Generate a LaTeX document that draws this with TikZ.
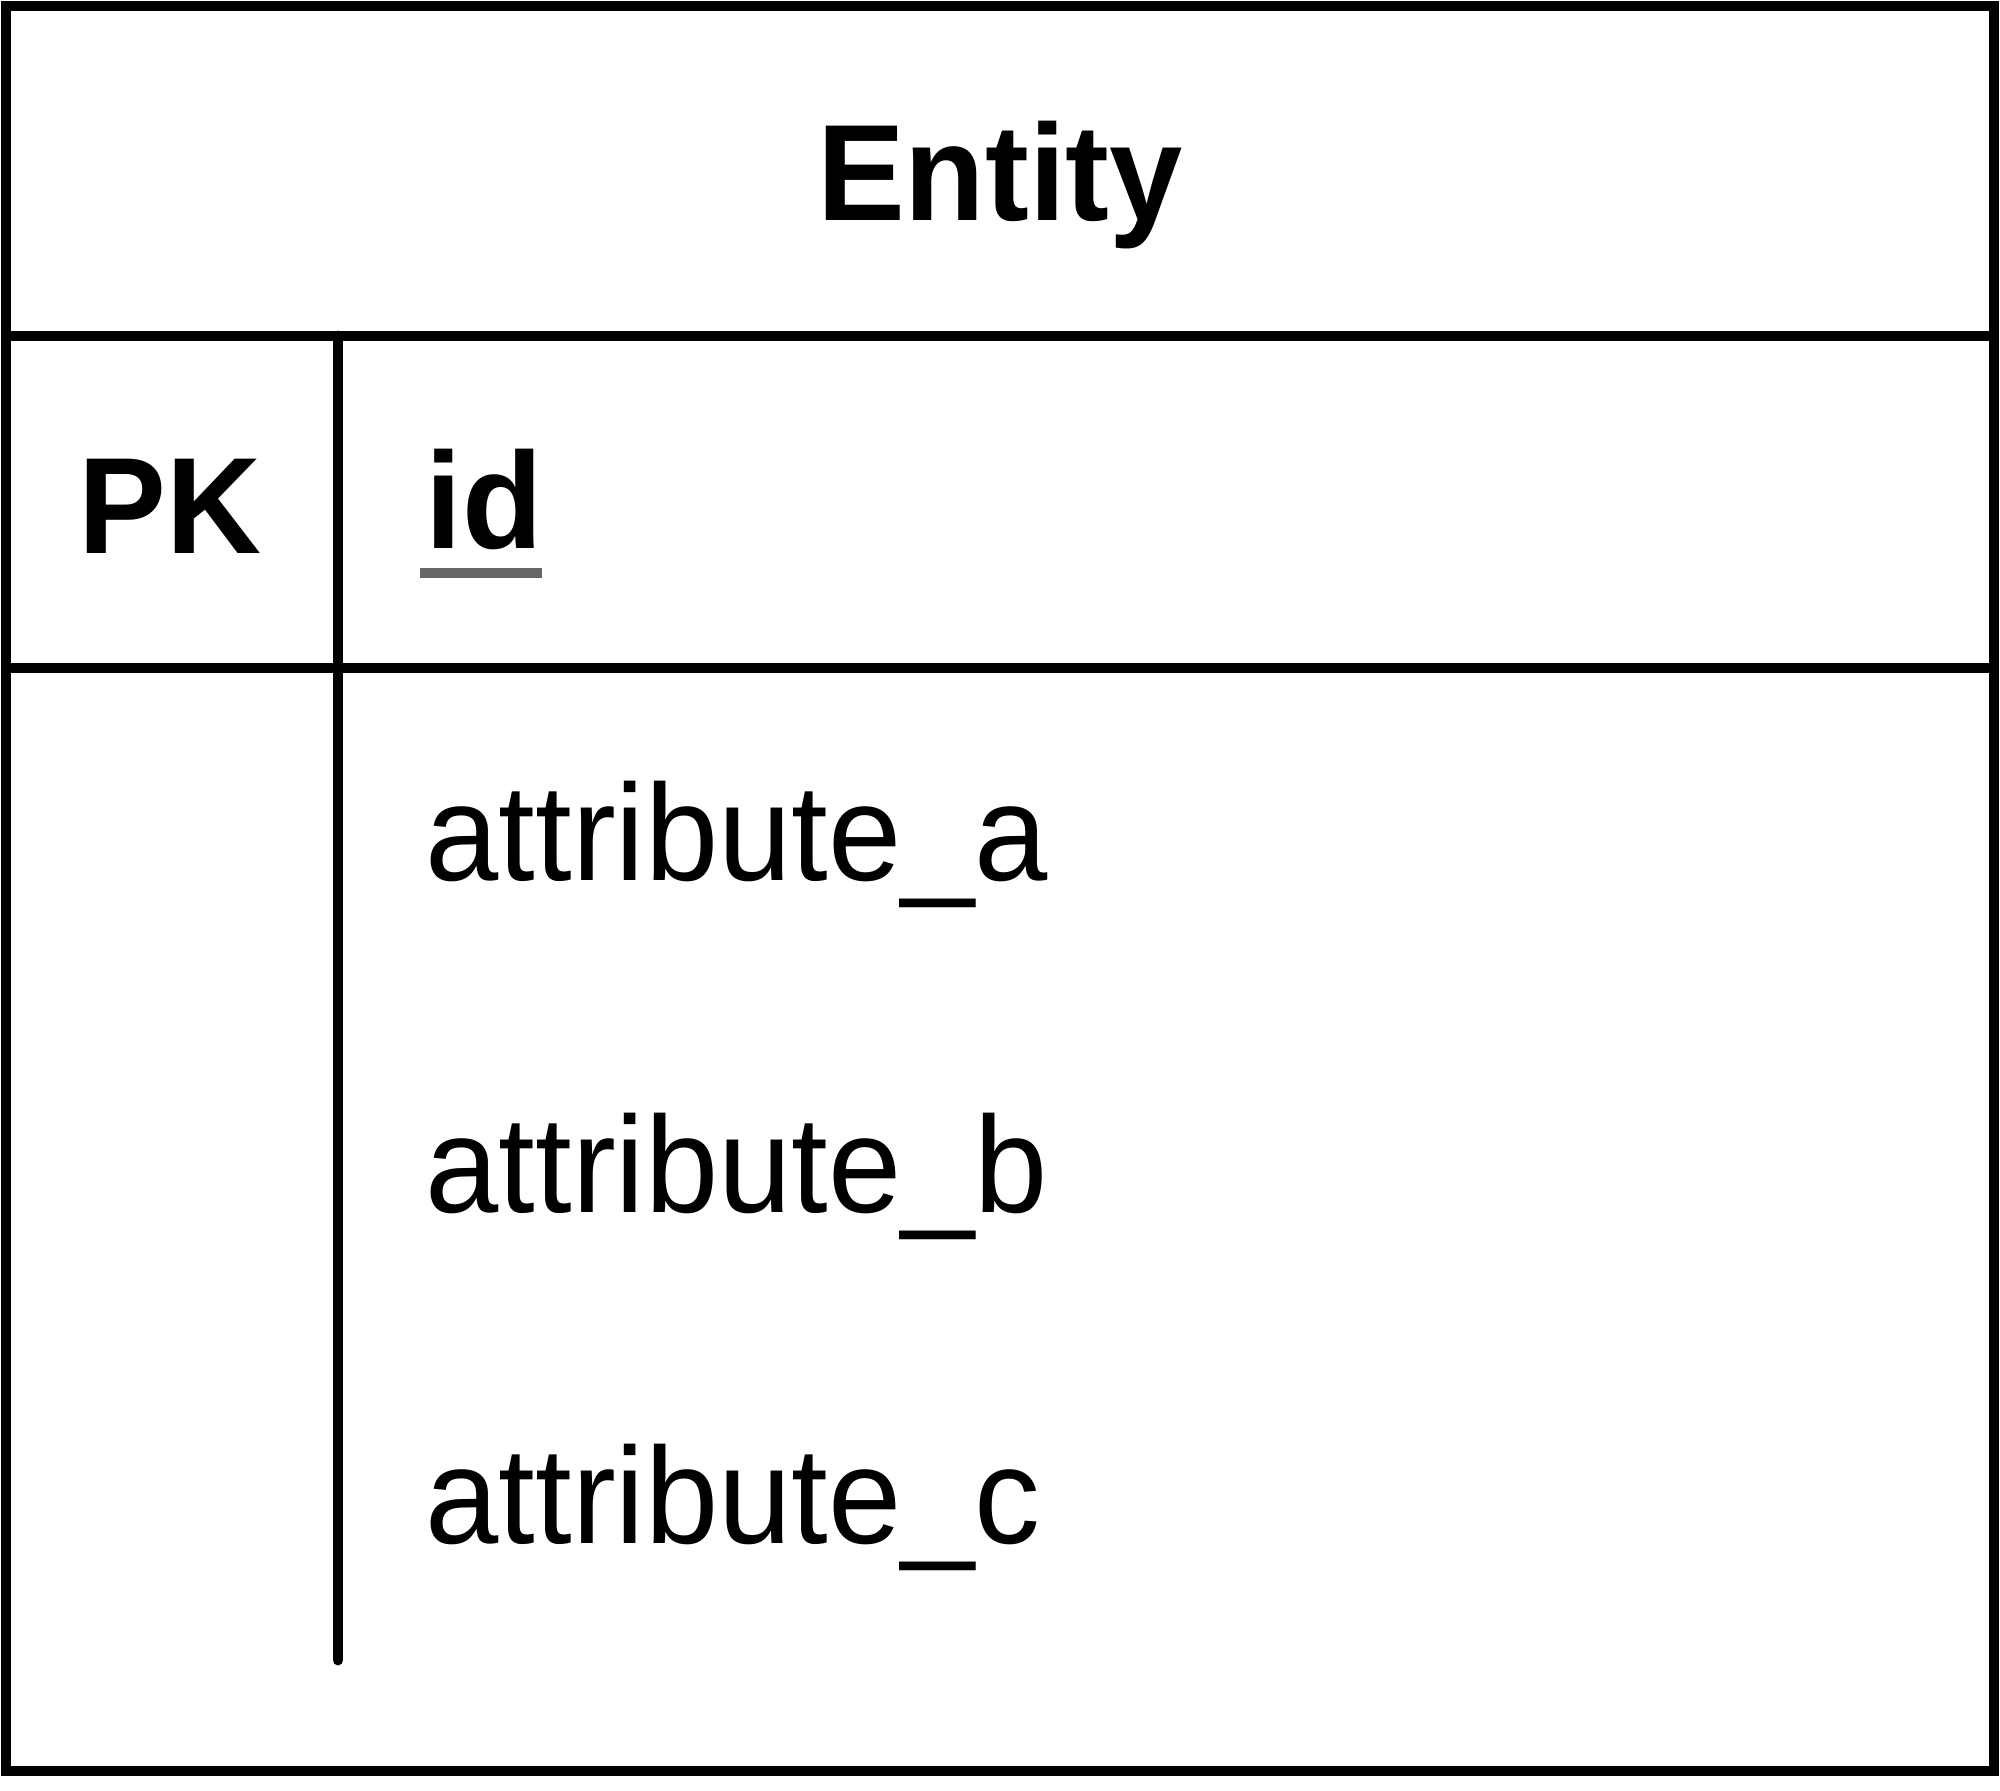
\documentclass[tikz,border=0pt]{standalone}
\usepackage{fontspec}
\setmainfont{Liberation Sans}[FakeStretch=0.96]
\begin{document}
\begin{tikzpicture}[x=0.01cm,y=-0.01cm,
  frame/.style={line width=3.1pt,draw=black},
  txt/.style={inner sep=0pt,font=\fontsize{39}{47}\selectfont},
  boldtxt/.style={txt,font=\fontsize{39}{47}\selectfont\bfseries}]
\useasboundingbox (0,0) rectangle (2000,1790);
\fill[white] (0,0) rectangle (2000,1790);
% outer box and separators
\draw[frame] (6,6) rectangle (1994,1771);
\draw[frame] (6,336) -- (1994,336);
\draw[frame] (6,668) -- (1994,668);
\draw[frame,line cap=round] (338,336) -- (338,1660);
% texts
\node[boldtxt,anchor=base] (title) at (1000,220) {Entity};
\node[boldtxt,anchor=base] (pk) at (170,553) {PK};
\node[boldtxt,anchor=base west] (id) at (425,548) {id};
\draw[line width=2.6pt,draw=black!60] (420,573) -- (542,573);
\node[txt,anchor=base west] (a) at (425,880) {attribute\_a};
\node[txt,anchor=base west] (b) at (425,1212) {attribute\_b};
\node[txt,anchor=base west] (c) at (425,1543) {attribute\_c};
\end{tikzpicture}
\end{document}
